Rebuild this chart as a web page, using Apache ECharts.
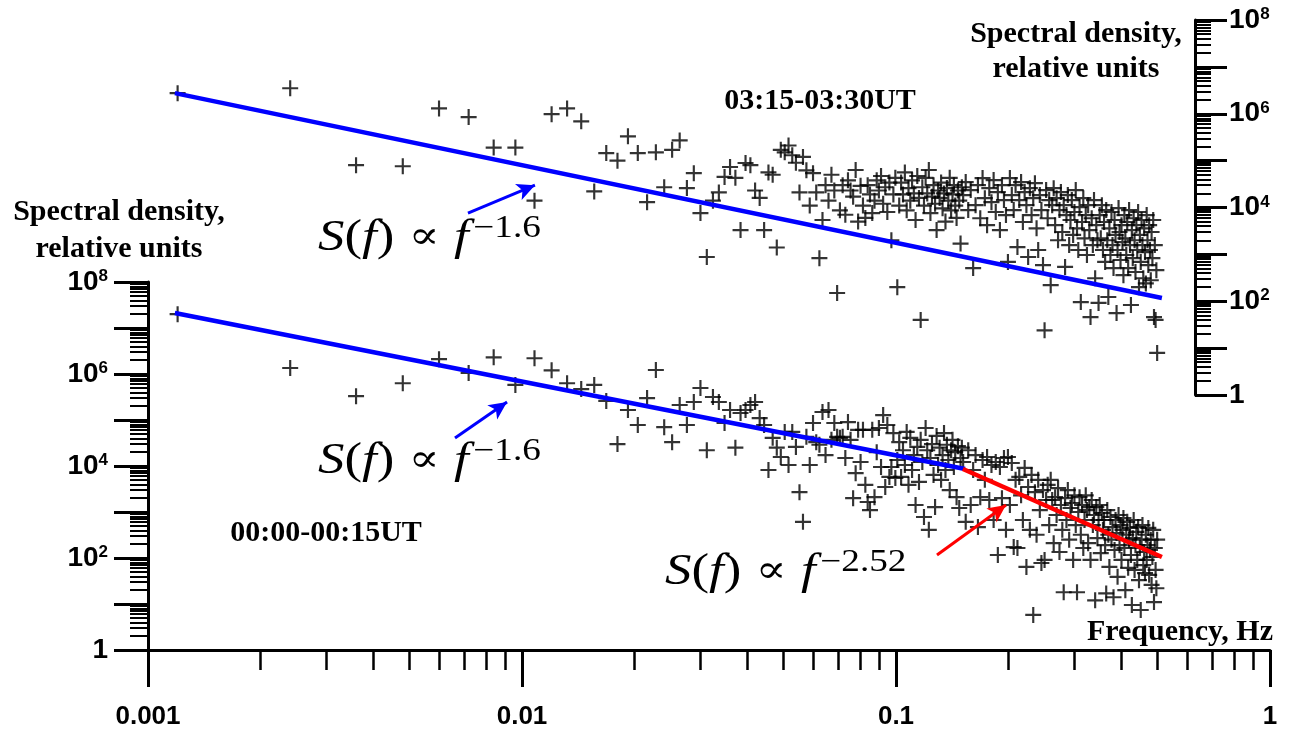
<!DOCTYPE html>
<html><head><meta charset="utf-8">
<script src="https://cdn.jsdelivr.net/npm/echarts@6/dist/echarts.min.js"></script>
<style>html,body{margin:0;padding:0;background:#fff}#c{width:1289px;height:731px}</style>
</head><body><div id="c"></div>
<script>
// Frequencies (Hz) of the spectral estimates
const freq = [
0.0012,0.0024,0.0036,0.0048,0.006,0.0072,0.0084,0.0096,0.0108,0.012,
0.0132,0.0144,0.0156,0.0168,0.018,0.0192,0.0204,0.0216,0.0228,0.024,
0.0252,0.0264,0.0276,0.0288,0.03,0.0312,0.0324,0.0336,0.0348,0.036,
0.0372,0.0384,0.0396,0.0408,0.042,0.0432,0.0444,0.0456,0.0468,0.048,
0.0492,0.0504,0.0516,0.0528,0.054,0.0552,0.0564,0.0576,0.0588,0.06,
0.0612,0.0624,0.0636,0.0648,0.066,0.0672,0.0684,0.0696,0.0708,0.072,
0.0732,0.0744,0.0756,0.0768,0.078,0.0792,0.0804,0.0816,0.0828,0.084,
0.0852,0.0864,0.0876,0.0888,0.09,0.0912,0.0924,0.0936,0.0948,0.096,
0.0972,0.0984,0.0996,0.1008,0.102,0.1032,0.1044,0.1056,0.1068,0.108,
0.1092,0.1104,0.1116,0.1128,0.114,0.1152,0.1164,0.1176,0.1188,0.12,
0.1212,0.1224,0.1236,0.1248,0.126,0.1272,0.1284,0.1296,0.1308,0.132,
0.1332,0.1344,0.1356,0.1368,0.138,0.1392,0.1404,0.1416,0.1428,0.144,
0.1452,0.1464,0.1476,0.1488,0.15,
0.1512,0.1536,0.156,0.1584,0.1608,0.1632,0.1656,0.168,0.1704,0.1728,
0.1752,0.1776,0.18,0.1824,0.1848,0.1872,0.1896,0.192,0.1944,0.1968,
0.1992,0.2016,0.204,0.2064,0.2088,0.2112,0.2136,0.216,0.2184,0.2208,
0.2232,0.2256,0.228,0.2304,0.2328,0.2352,0.2376,0.24,0.2424,0.2448,
0.2472,0.2496,0.252,0.2544,0.2568,0.2592,0.2616,0.264,0.2664,0.2688,
0.2712,0.2736,0.276,0.2784,0.2808,0.2832,0.2856,0.288,0.2904,0.2928,
0.2952,0.2976,0.3,0.3024,0.3048,0.3072,0.3096,0.312,0.3144,0.3168,
0.3192,0.3216,0.324,0.3264,0.3288,0.3312,0.3336,0.336,0.3384,0.3408,
0.3432,0.3456,0.348,0.3504,0.3528,0.3552,0.3576,0.36,0.3624,0.3648,
0.3672,0.3696,0.372,0.3744,0.3768,0.3792,0.3816,0.384,0.3864,0.3888,
0.3912,0.3936,0.396,0.3984,0.4008,0.4032,0.4056,0.408,0.4104,0.4128,
0.4152,0.4176,0.42,0.4224,0.4248,0.4272,0.4296,0.432,0.4344,0.4368,
0.4392,0.4416,0.444,0.4464,0.4488,0.4512,0.4536,0.456,0.4584,0.4608,
0.4632,0.4656,0.468,0.4704,0.4728,0.4752,0.4776,0.48,0.4824,0.4848,
0.4872,0.4896,0.492,0.4944,0.4968,0.4992
];

// 03:15-03:30UT spectrum (upper panel, right axis)
const specTop = [
2.75e6,3.5e6,8.0e4,7.6e4,1.3e6,8.5e5,1.9e5,1.9e5,1.4e4,9.8e5,
1.3e6,6.9e5,2.2e4,1.45e5,1.0e5,3.3e5,1.45e5,1.3e4,1.5e5,2.7e4,
1.7e5,2.7e5,2.6e4,5.4e4,7.6e3,8.8e2,1.4e4,2.1e4,4.5e4,7.3e4,
4.3e4,3.3e3,8.9e4,8.0e4,2.3e4,1.6e4,3.3e3,5.6e4,5.0e4,1.4e3,
1.7e5,1.5e5,2.1e5,1.3e5,9.0e4,2.1e4,1.2e5,6.2e4,1.1e4,5.4e4,
2.1e4,8.3e2,5.4e3,3.0e4,1.4e4,5.0e4,2.3e4,1.5e2,8.7e3,3.0e4,
7.0e3,3.8e4,2.3e4,1.7e4,6.3e4,5.0e3,2.9e4,1.1e4,6.0e3,3.0e4,
1.9e4,7.6e3,1.4e4,3.8e4,2.3e4,4.7e4,1.2e4,2.7e4,8.0e3,3.4e4,
2.0e3,1.9e4,4.3e4,2.0e2,1.1e4,3.4e4,1.9e4,5.6e4,8.7e3,2.6e4,
1.4e4,3.8e4,2.0e4,5.4e3,4.7e4,1.6e4,40,2.7e4,1.1e4,4.3e4,
2.0e4,6.3e4,7.6e3,1.7e4,3.0e4,1.2e4,3.3e3,2.3e4,1.6e4,3.4e4,
9.6e3,2.0e4,5.0e3,2.6e4,1.4e4,4.3e4,8.7e3,1.9e4,3.0e4,1.1e4,
6.0e3,2.3e4,1.4e4,1.7e3,2.7e4,
1.84e4,3.48e4,8.8e3,2.35e4,5.1e2,1.12e4,3.0e4,5.9e3,4.24e4,1.58e4,
4.2e3,2.59e4,1.3e4,3.84e4,8.0e3,2.13e4,3.3e3,3.0e4,1.44e4,6.9e3,
6.9e2,4.24e4,1.84e4,8.8e3,3.0e4,1.43e3,1.44e4,3.48e4,4.9e3,2.13e4,
1.12e4,8.8e2,2.59e4,6.9e3,1.58e4,3.31e4,3.6e3,1.24e3,1.84e4,8.8e3,
5.9e2,24,2.35e4,5.9e3,1.44e4,
2.2e2,1.12e4,2.59e4,4.2e3,1.58e4,2.0e3,8.8e3,2.13e4,3.0e3,1.12e4,
5.4e2,6.9e3,1.84e4,1.58e3,5.4e3,1.44e4,2.6e3,8.0e3,2.35e4,3.6e3,
1.24e3,1.02e4,96,4.9e3,1.58e4,2.2e3,6.9e3,9.7e2,1.12e4,3.3e3,
46,5.9e3,1.58e3,1.44e4,3.1e2,4.2e3,2.0e3,92,
6.9e3,2.2e3,1.12e4,1.24e3,4.9e3,6.9e2,8.8e3,2.0e3,1.23e2,3.6e3,
9.7e2,8.0e3,1.58e3,5.1e2,5.4e3,2.6e3,56,1.24e3,9.7e3,3.0e3,
7.6e2,4.2e3,1.83e3,3.6e2,6.9e3,2.2e3,9.7e2,4.9e3,5.1e2,8.8e3,
1.58e3,83,3.3e3,8.3e2,5.9e3,2.0e3,4.2e2,4.2e3,1.24e3,8.0e3,
2.0e2,2.6e3,6.9e2,5.4e3,1.58e3,3.1e2,3.6e3,1.12e3,2.4e2,6.9e3,
2.0e3,5.9e2,4.2e3,1.24e3,2.8e2,3.0e3,8.3e2,5.4e3,46,1.58e3,
40,4.6e2,7.9
];

// 00:00-00:15UT spectrum (lower panel, left axis)
const specBottom = [
2.0e7,1.35e6,3.3e5,6.3e5,2.1e6,1.05e6,2.3e6,5.8e5,2.2e6,1.2e6,
6.3e5,4.7e5,5.8e5,2.6e5,3.0e4,1.65e5,7.8e4,3.0e5,1.22e6,7.0e4,
3.3e4,2.12e5,7.8e4,2.46e5,4.96e5,2.2e4,3.16e5,2.46e5,8.6e4,1.65e5,
2.5e4,1.42e5,1.65e5,2.12e5,2.46e5,1.1e5,7.8e4,8.2e3,4.1e4,2.5e4,
1.57e4,5.5e4,1.05e4,5.5e4,2.6e4,2.7e3,6.1e2,4.3e4,1.05e4,8.6e4,
3.3e4,2.9e4,1.49e5,1.73e4,1.65e5,3.7e4,8.6e4,4.3e4,4.1e4,4.3e4,
1.49e4,9.0e4,3.7e4,2.0e3,7.0e3,6.1e4,1.22e4,6.1e4,3.9e3,1.65e3,
1.1e3,6.1e4,2.1e3,2.0e4,6.7e4,9.5e3,1.28e5,3.5e3,7.8e4,5.8e3,
9.5e3,5.2e4,5.5e3,1.35e4,3.3e4,5.8e3,2.2e4,1.05e4,5.5e4,3.9e3,
4.1e4,8.2e3,1.73e4,1.42e3,2.6e4,4.5e3,3.7e4,1.22e4,7.8e2,6.7e4,
2.2e4,4.1e2,1.49e4,3.0e4,6.4e3,1.28e3,4.5e4,1.05e4,2.5e4,5.0e3,
1.73e4,5.2e4,8.2e3,2.9e4,1.35e4,3.0e3,2.2e4,3.7e4,9.5e3,2.0e4,
2.1e3,2.7e4,1.22e3,1.49e4,2.5e4,
1.22e4,6.1e2,2.2e4,1.42e3,8.2e3,1.73e4,4.7e2,2.1e3,1.35e4,5.0e3,
1.57e4,1.82e3,1.05e4,6.7e2,1.22e4,1.16e2,9.5e3,2.0e3,1.49e4,4.1e2,
1.57e4,1.42e3,1.16e4,1.73e2,5.0e3,1.65e2,5.8e3,2.3e3,6.7e2,9.1e3,
64,3.5e3,4.1e2,6.4e3,5.8,2.7e3,3.2e2,5.0e3,1.1e3,78,
3.0e3,91,1.82e3,3.9e3,5.2e2,
5.0e3,1.82e3,2.1e2,2.1e3,8.6e2,3.3e3,1.35e2,1.42e3,4.1e2,18,
2.0e3,6.7e2,3.0e3,2.5e2,1.22e3,1.57e3,91,2.3e3,5.2e2,18,
1.0e3,2.1e3,3.2e2,1.42e3,1.65e2,6.7e2,2.3e3,1.1e3,2.1e2,1.28e3,
91,1.82e3,5.2e2,8.6e2,12,1.28e3,2.7e2,6.7e2,
1.42e3,1.28e2,9.5e2,4.1e2,6.7e2,1.9e2,17,1.1e3,3.2e2,64,
7.8e2,2.5e2,4.7e2,14,1.49e2,6.7e2,3.5e2,39,8.6e2,1.9e2,
5.2e2,91,4.1e2,7.4e2,1.65e2,20,3.2e2,6.1e2,61,2.5e2,
4.5e2,1.16e2,9.5,2.7e2,6.7e2,55,1.9e2,3.7e2,91,4.7e2,
33,1.65e2,7.4,2.5e2,5.2e2,70,1.35e2,47,3.2e2,91,
1.9e2,4.5e2,43,1.49e2,2.5e2,26,1.05e2,4.1e2,11,1.65e2,
55,22,2.5e2
];

// Power-law fits and annotation arrows (frequency, spectral density)
const fitTop = [[0.00118, 2.75e6], [0.514, 117]];
const fitBottomLow = [[0.00118, 2.12e7], [0.153, 8.6e3]];
const fitBottomHigh = [[0.151, 8.6e3], [0.514, 105]];
const arrowTop = [[0.00717, 7.6e3], [0.01083, 3.0e4]];
const arrowBottom = [[0.00662, 4.06e4], [0.00912, 2.46e5]];
const arrowRed = [[0.1287, 116], [0.1968, 1.42e3]];

// Tick values and labels
const xMajor = [0.001, 0.01, 0.1, 1];
const xLabels = ['0.001', '0.01', '0.1', '1'];
const xMinor = [0.002,0.003,0.004,0.005,0.006,0.007,0.008,0.009,
                0.02,0.03,0.04,0.05,0.06,0.07,0.08,0.09,
                0.2,0.3,0.4,0.5,0.6,0.7,0.8,0.9];
const yMajor = [1,10,100,1e3,1e4,1e5,1e6,1e7,1e8];
const yLabelValues = [1,1e2,1e4,1e6,1e8];
const yLabels = ['1','10{s|2}','10{s|4}','10{s|6}','10{s|8}'];
const yMinor = [2,3,4,5,6,7,8,9,
  20,30,40,50,60,70,80,90,
  200,300,400,500,600,700,800,900,
  2e3,3e3,4e3,5e3,6e3,7e3,8e3,9e3,
  2e4,3e4,4e4,5e4,6e4,7e4,8e4,9e4,
  2e5,3e5,4e5,5e5,6e5,7e5,8e5,9e5,
  2e6,3e6,4e6,5e6,6e6,7e6,8e6,9e6,
  2e7,3e7,4e7,5e7,6e7,7e7,8e7,9e7];

function findLabel(vals, labels, v) {
  for (let i = 0; i < vals.length; i++) {
    if (Math.abs(v - vals[i]) <= vals[i] * 1e-6) return labels[i];
  }
  return '';
}

const SANS = '"Liberation Sans", Arial, sans-serif';
const SERIF = '"Liberation Serif", "Times New Roman", serif';
const supRich = { s: { fontSize: 17, fontWeight: 'bold', fontFamily: SANS, color: '#000', verticalAlign: 'top', lineHeight: 13 } };
const cross = 'path://M-1,-0.135L1,-0.135L1,0.135L-1,0.135Z M-0.135,-1L0.135,-1L0.135,1L-0.135,1Z';

function xAx(grid, kind) {
  const base = { gridIndex: grid, type: 'log', logBase: 10, min: 0.001, max: 1, position: 'bottom',
    splitLine: { show: false }, minorTick: { show: false }, minorSplitLine: { show: false } };
  if (kind === 'hidden') return Object.assign(base, { show: false });
  if (kind === 'major') return Object.assign(base, {
    axisLine: { show: true, onZero: false, lineStyle: { color: '#000', width: 3 } },
    axisTick: { show: true, customValues: xMajor, length: 37, lineStyle: { color: '#000', width: 3 } },
    axisLabel: { show: true, customValues: xMajor, formatter: v => findLabel(xMajor, xLabels, v),
      margin: 54, fontSize: 26, fontWeight: 'bold', fontFamily: SANS, color: '#000' }
  });
  return Object.assign(base, {
    axisLine: { show: false },
    axisTick: { show: true, customValues: xMinor, length: 20, lineStyle: { color: '#000', width: 2.5 } },
    axisLabel: { show: false }
  });
}
function yAx(grid, pos, off, kind) {
  const base = { gridIndex: grid, type: 'log', logBase: 10, min: 1, max: 1e8, position: pos, offset: off,
    splitLine: { show: false }, minorTick: { show: false }, minorSplitLine: { show: false } };
  if (kind === 'major') return Object.assign(base, {
    axisLine: { show: true, onZero: false, lineStyle: { color: '#000', width: 3 } },
    axisTick: { show: true, customValues: yMajor, length: pos === 'left' ? 34 : 32, lineStyle: { color: '#000', width: 3 } },
    axisLabel: { show: true, customValues: yLabelValues, formatter: v => findLabel(yLabelValues, yLabels, v),
      margin: pos === 'left' ? 40 : 34, fontSize: 28, fontWeight: 'bold', fontFamily: SANS, color: '#000', rich: supRich }
  });
  return Object.assign(base, {
    axisLine: { show: false },
    axisTick: { show: true, customValues: yMinor, length: pos === 'left' ? 18 : 16, lineStyle: { color: '#000', width: 2 } },
    axisLabel: { show: false }
  });
}

function arrowMark(pts, color) {
  return { silent: true, animation: false, symbol: ['none', 'arrow'], symbolSize: [13, 18],
    label: { show: false }, emphasis: { disabled: true },
    lineStyle: { color: color, width: 3, type: 'solid' },
    data: [[{ coord: pts[0] }, { coord: pts[1] }]] };
}

const mathRich = {
  i: { fontFamily: SERIF, fontStyle: 'italic', fontSize: 44, lineHeight: 50, fill: '#000' },
  r: { fontFamily: SERIF, fontSize: 44, lineHeight: 50, fill: '#000' },
  o: { fontFamily: '"DejaVu Serif", serif', fontSize: 38, lineHeight: 50, padding: [0, 12, 0, 12], fill: '#000' },
  p: { fontFamily: SERIF, fontSize: 31, lineHeight: 24, verticalAlign: 'top', padding: [0, 0, 0, 4], fill: '#000' }
};
function formula(x, y, expo) {
  return { type: 'text', x: x, y: y, scaleX: 1.2, silent: true,
    style: { text: '{i|S}{r|(}{i|f}{r|)}{o|\u221D}{i|f}{p|\u2212' + expo + '}', rich: mathRich, align: 'left', verticalAlign: 'middle', fill: '#000' } };
}
function serifText(txt, x, y, align) {
  return { type: 'text', x: x, y: y, silent: true,
    style: { text: txt, font: 'bold 30px ' + SERIF, fill: '#000', align: align || 'center', verticalAlign: 'middle' } };
}

const chart = echarts.init(document.getElementById('c'), null, { renderer: 'canvas', width: 1289, height: 731 });
chart.setOption({
  backgroundColor: '#fff',
  animation: false,
  grid: [
    { left: 148, top: 282, width: 1122, height: 368, outerBoundsMode: 'none', containLabel: false },
    { left: 148, top: 20, width: 1122, height: 375, outerBoundsMode: 'none', containLabel: false }
  ],
  xAxis: [xAx(0, 'major'), xAx(0, 'minor'), xAx(1, 'hidden')],
  yAxis: [yAx(0, 'left', 0, 'major'), yAx(0, 'left', 0, 'minor'), yAx(1, 'right', -75, 'major'), yAx(1, 'right', -75, 'minor')],
  series: [
    { type: 'scatter', xAxisIndex: 2, yAxisIndex: 2, silent: true, z: 2,
      symbol: cross, symbolSize: 16, itemStyle: { color: '#000' },
      data: freq.map((f, i) => [f, specTop[i]]).filter(d => d[1] > 0) },
    { type: 'scatter', xAxisIndex: 0, yAxisIndex: 0, silent: true, z: 2,
      symbol: cross, symbolSize: 16, itemStyle: { color: '#000' },
      data: freq.map((f, i) => [f, specBottom[i]]).filter(d => d[1] > 0) },
    { type: 'line', xAxisIndex: 2, yAxisIndex: 2, silent: true, z: 3, symbol: 'none', showSymbol: false,
      lineStyle: { color: '#0000ff', width: 4.5 }, data: fitTop, markLine: arrowMark(arrowTop, '#0000ff') },
    { type: 'line', xAxisIndex: 0, yAxisIndex: 0, silent: true, z: 3, symbol: 'none', showSymbol: false,
      lineStyle: { color: '#0000ff', width: 4.5 }, data: fitBottomLow, markLine: arrowMark(arrowBottom, '#0000ff') },
    { type: 'line', xAxisIndex: 0, yAxisIndex: 0, silent: true, z: 3, symbol: 'none', showSymbol: false,
      lineStyle: { color: '#ff0000', width: 4.5 }, data: fitBottomHigh, markLine: arrowMark(arrowRed, '#ff0000') }
  ],
  graphic: [
    serifText('Spectral density,', 119, 212),
    serifText('relative units', 119, 249),
    serifText('Spectral density,', 1076, 34),
    serifText('relative units', 1076, 69),
    serifText('03:15-03:30UT', 820, 101),
    serifText('00:00-00:15UT', 326, 533),
    serifText('Frequency, Hz', 1273, 632, 'right'),
    formula(318, 238, '1.6'),
    formula(318, 461, '1.6'),
    formula(665, 572, '2.52')
  ]
});
</script></body></html>
